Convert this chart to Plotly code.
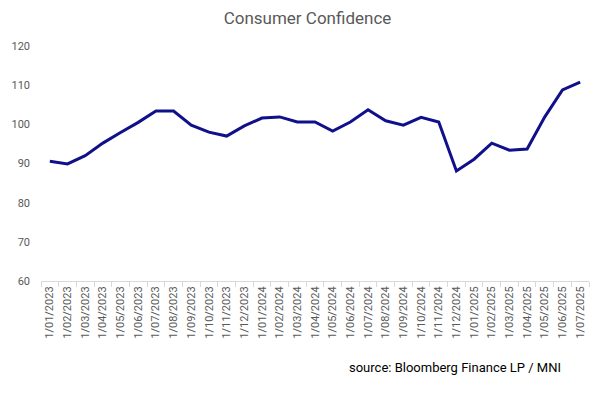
import plotly.graph_objects as go

months = ["1/01/2023","1/02/2023","1/03/2023","1/04/2023","1/05/2023","1/06/2023","1/07/2023",
          "1/08/2023","1/09/2023","1/10/2023","1/11/2023","1/12/2023","1/01/2024","1/02/2024",
          "1/03/2024","1/04/2024","1/05/2024","1/06/2024","1/07/2024","1/08/2024","1/09/2024",
          "1/10/2024","1/11/2024","1/12/2024","1/01/2025","1/02/2025","1/03/2025","1/04/2025",
          "1/05/2025","1/06/2025","1/07/2025"]
confidence = [90.6, 89.9, 92.0, 95.2, 97.9, 100.5, 103.4, 103.4, 99.8, 98.0, 97.0, 99.6,
              101.6, 101.9, 100.6, 100.6, 98.3, 100.6, 103.7, 100.9, 99.8, 101.8, 100.6,
              88.1, 91.1, 95.2, 93.4, 93.7, 101.9, 108.8, 110.8]
y_ticks = [60, 70, 80, 90, 100, 110, 120]

font = "Roboto, Liberation Sans, sans-serif"

fig = go.Figure(go.Scatter(x=months, y=confidence, mode="lines",
                           line=dict(color="#10108a", width=3), showlegend=False))

fig.update_layout(
    width=599, height=380,
    margin=dict(l=33, r=18, t=38, b=107),
    paper_bgcolor="white", plot_bgcolor="white",
    title=dict(text="Consumer Confidence", x=0.5, xanchor="center", xref="container",
               y=1 - 10 / 380, yanchor="middle", yref="container",
               font=dict(family=font, size=17, color="#595959")),
    xaxis=dict(type="category", range=[-0.5, 30.5], showgrid=False, showline=True,
               linecolor="#d9d9d9", linewidth=1, ticks="outside", tickson="boundaries",
               ticklen=5, tickcolor="#d9d9d9", tickangle=-90, automargin=False,
               tickfont=dict(family=font, size=11, color="#595959"), zeroline=False),
    yaxis=dict(range=[60, 120], tickvals=y_ticks, showgrid=False, showline=False,
               zeroline=False, ticks="", ticklabelstandoff=10, automargin=False,
               tickfont=dict(family=font, size=11, color="#595959")),
    annotations=[dict(text="source: Bloomberg Finance LP / MNI", xref="paper", yref="paper",
                      x=1.0, y=-0.366, xanchor="right", yanchor="middle", showarrow=False,
                      xshift=-26,
                      font=dict(family=font, size=13, color="#000000"))],
)

fig.write_html("out.html")
